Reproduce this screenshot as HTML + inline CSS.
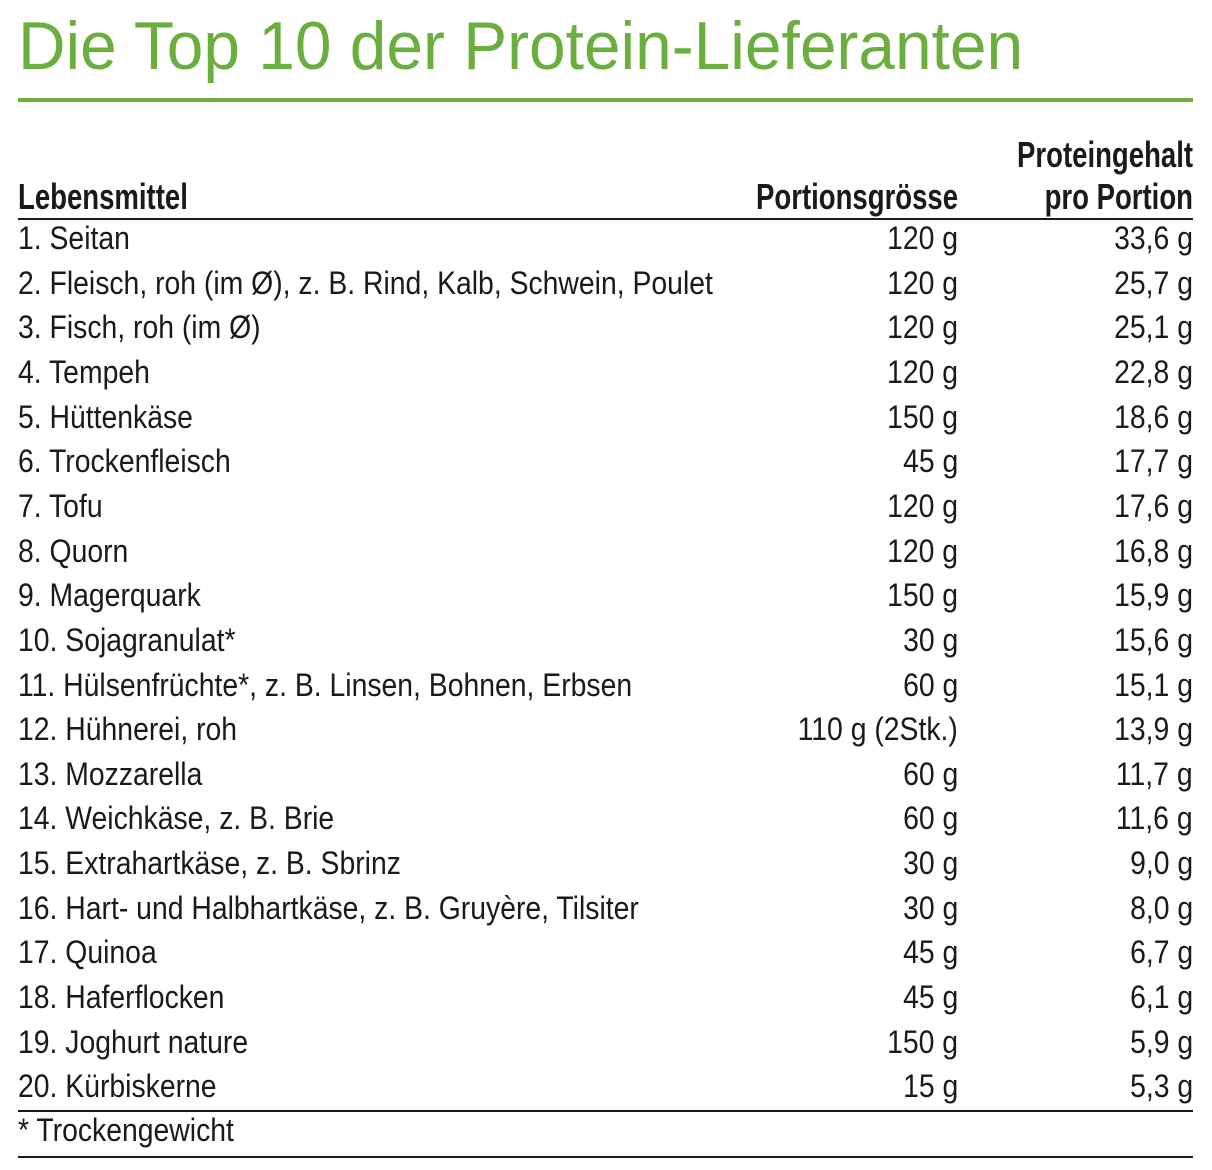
<!DOCTYPE html>
<html><head><meta charset="utf-8">
<style>
body{margin:0;width:1212px;height:1170px;background:#fff;position:relative;overflow:hidden;font-family:"Liberation Sans",sans-serif;color:#1a1a1a}
.t{position:absolute;white-space:nowrap;font-size:32px;line-height:44.6px;height:44.6px}
.l{left:18px;transform:scaleX(0.886);transform-origin:left center}
.p{right:254px;transform:scaleX(0.886);transform-origin:right center}
.q{right:19px;transform:scaleX(0.886);transform-origin:right center}
.h{font-weight:bold;font-size:36px}
.h.l,.h.p,.h.q{transform:scaleX(0.765)}
.line{position:absolute;left:18px;width:1175px;background:#1a1a1a;height:1.5px}
</style></head><body>
<div style="position:absolute;left:18px;top:6px;font-size:68px;line-height:80px;color:#6aae3e;white-space:nowrap;transform:scaleX(0.968);transform-origin:left center">Die Top 10 der Protein-Lieferanten</div>
<div style="position:absolute;left:18px;top:98px;width:1175px;height:4px;background:#6aae3e"></div>
<div class="t l h" style="top:175px">Lebensmittel</div>
<div class="t p h" style="top:175px">Portionsgrösse</div>
<div class="t q h" style="top:133px">Proteingehalt</div>
<div class="t q h" style="top:175px">pro Portion</div>
<div class="line" style="top:218px"></div>
<div id="rows"></div>
<div class="line" style="top:1110px"></div>
<div class="t l" style="top:1108px">* Trockengewicht</div>
<div class="line" style="top:1156px"></div>
<script>
var d=[["1. Seitan","120 g","33,6 g"],["2. Fleisch, roh (im Ø), z. B. Rind, Kalb, Schwein, Poulet","120 g","25,7 g"],["3. Fisch, roh (im Ø)","120 g","25,1 g"],["4. Tempeh","120 g","22,8 g"],["5. Hüttenkäse","150 g","18,6 g"],["6. Trockenfleisch","45 g","17,7 g"],["7. Tofu","120 g","17,6 g"],["8. Quorn","120 g","16,8 g"],["9. Magerquark","150 g","15,9 g"],["10. Sojagranulat*","30 g","15,6 g"],["11. Hülsenfrüchte*, z. B. Linsen, Bohnen, Erbsen","60 g","15,1 g"],["12. Hühnerei, roh","110 g (2Stk.)","13,9 g"],["13. Mozzarella","60 g","11,7 g"],["14. Weichkäse, z. B. Brie","60 g","11,6 g"],["15. Extrahartkäse, z. B. Sbrinz","30 g","9,0 g"],["16. Hart- und Halbhartkäse, z. B. Gruyère, Tilsiter","30 g","8,0 g"],["17. Quinoa","45 g","6,7 g"],["18. Haferflocken","45 g","6,1 g"],["19. Joghurt nature","150 g","5,9 g"],["20. Kürbiskerne","15 g","5,3 g"]];
var h="";d.forEach(function(r,i){var y=(216+i*44.65).toFixed(1);h+='<div class="t l" style="top:'+y+'px">'+r[0]+'</div><div class="t p" style="top:'+y+'px">'+r[1]+'</div><div class="t q" style="top:'+y+'px">'+r[2]+'</div>';});
document.getElementById("rows").innerHTML=h;
</script>
</body></html>
